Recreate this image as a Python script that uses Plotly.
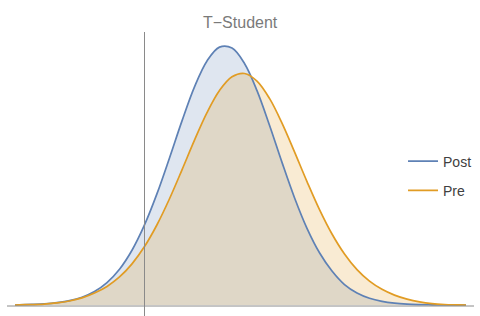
import plotly.graph_objects as go

grid_x = [-2.59, -2.5, -2.25, -2.0, -1.75, -1.5, -1.25, -1.0, -0.75, -0.5, -0.25, 0.0,
          0.25, 0.5, 0.75, 1.0, 1.25, 1.5, 1.75, 2.0, 2.25, 2.5, 2.75, 3.0,
          3.25, 3.5, 3.75, 4.0, 4.25, 4.5, 4.75, 5.0, 5.25, 5.5, 5.75, 6.0, 6.25, 6.43]

# Post (blue) density heights
post_y = [0.0, 0.0004, 0.0010, 0.0019, 0.0037, 0.0067, 0.0120, 0.0208, 0.0345, 0.0551, 0.0843, 0.1232,
          0.1713, 0.2263, 0.2833, 0.3356, 0.3755, 0.3967, 0.3953, 0.3716, 0.3298, 0.2766, 0.2194, 0.1651,
          0.1180, 0.0804, 0.0523, 0.0315, 0.0185, 0.0104, 0.0056, 0.0028, 0.0013, 0.0006, 0.0003, 0.0001, 0.0, 0.0]

# Pre (orange) density heights
pre_y = [0.0, 0.0003, 0.0007, 0.0015, 0.0032, 0.0062, 0.0110, 0.0185, 0.0286, 0.0431, 0.0633, 0.0899,
         0.1235, 0.1635, 0.2080, 0.2537, 0.2960, 0.3300, 0.3511, 0.3562, 0.3445, 0.3178, 0.2798, 0.2355,
         0.1899, 0.1468, 0.1093, 0.0785, 0.0544, 0.0367, 0.0241, 0.0152, 0.0090, 0.0047, 0.0021, 0.0008, 0.0003, 0.0]

series_names = ["Post", "Pre"]
title_text = "T\u2212Student"

BLUE = "#5E81B5"
ORANGE = "#E19C24"
FONT = "Liberation Sans, Arial, sans-serif"
SPL = dict(shape="spline", smoothing=1.0)

fig = go.Figure()
fig.add_trace(go.Scatter(x=grid_x, y=post_y, mode="lines", fill="tozeroy",
                         fillcolor="rgba(94,129,181,0.2)", line=dict(width=0, **SPL),
                         showlegend=False, hoverinfo="skip"))
fig.add_trace(go.Scatter(x=grid_x, y=pre_y, mode="lines", fill="tozeroy",
                         fillcolor="rgba(225,156,36,0.2)", line=dict(width=0, **SPL),
                         showlegend=False, hoverinfo="skip"))
fig.add_trace(go.Scatter(x=grid_x, y=post_y, mode="lines", name=series_names[0], legendgroup="a",
                         line=dict(color=BLUE, width=1.7, **SPL)))
fig.add_trace(go.Scatter(x=grid_x, y=pre_y, mode="lines", name=series_names[1], legendgroup="b",
                         line=dict(color=ORANGE, width=1.7, **SPL)))

fig.add_shape(type="line", xref="x", yref="paper", x0=0, x1=0, y0=0, y1=1,
              line=dict(color="#8a8a8a", width=1))
fig.add_shape(type="line", xref="paper", yref="y", x0=0, x1=1, y0=-0.00154, y1=-0.00154,
              line=dict(color="#8a8a8a", width=1))

fig.add_annotation(text=title_text, xref="paper", yref="paper", x=0.5, y=1.035,
                   xanchor="center", yanchor="middle", showarrow=False,
                   font=dict(family=FONT, size=16, color="#7a7a7a"))

fig.update_layout(
    width=480, height=316,
    margin=dict(l=7, r=6, t=32, b=0),
    paper_bgcolor="white", plot_bgcolor="white",
    xaxis=dict(range=[-2.75, 6.59], visible=False, showgrid=False, zeroline=False),
    yaxis=dict(range=[-0.01692, 0.42], visible=False, showgrid=False, zeroline=False),
    showlegend=True,
    legend=dict(x=0.848, y=0.493, xanchor="left", yanchor="middle",
                traceorder="grouped", tracegroupgap=8,
                font=dict(family=FONT, size=14, color="#404040"),
                bgcolor="rgba(0,0,0,0)", borderwidth=0),
)

fig.write_html("out.html", config={"displayModeBar": False},
               post_script="document.body.style.margin='0px';")
